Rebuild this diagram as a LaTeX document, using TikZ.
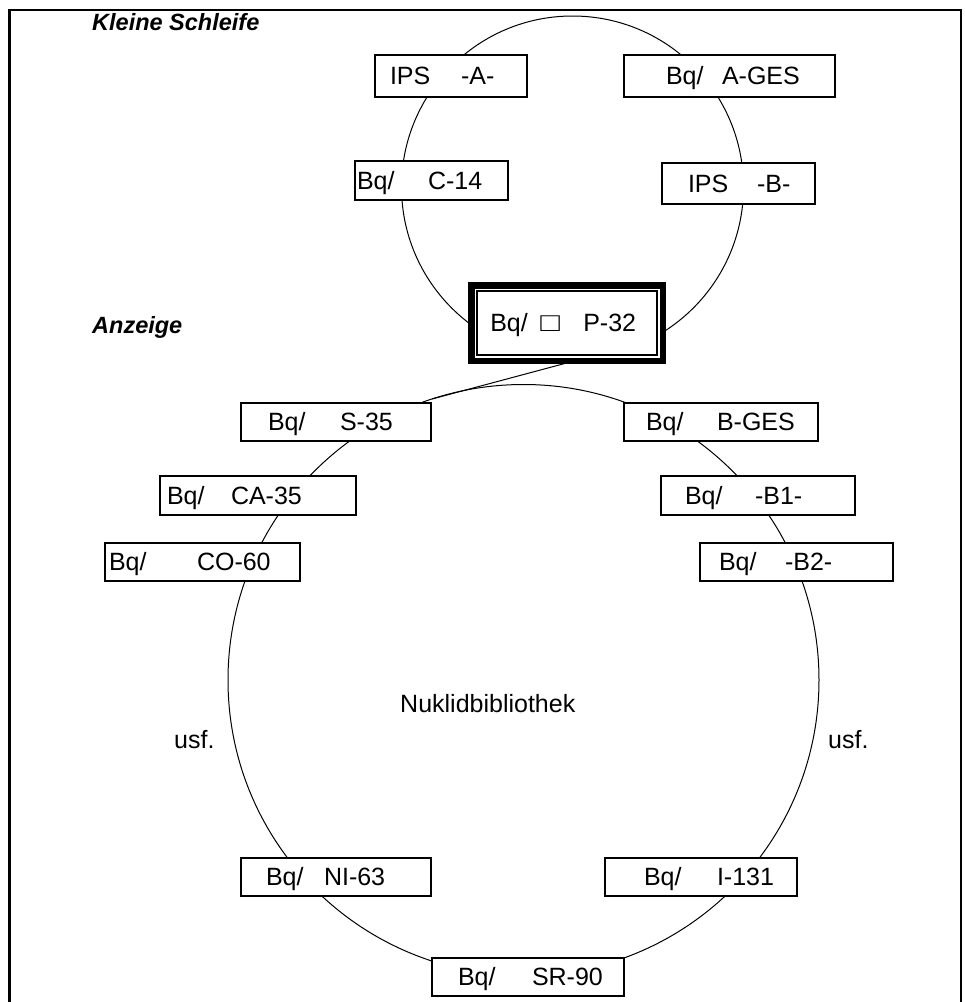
\documentclass[tikz,border=0pt]{standalone}
\usepackage{fontspec}
\usepackage{graphicx}
\setmainfont{Liberation Sans}
\newcommand\bt[5]{\makebox[#1pt][l]{\rlap{\hspace*{#2pt}#3}\hspace*{#4pt}#5}}
\begin{document}
\begin{tikzpicture}[x=1pt,y=-1pt,
  boxst/.style={draw, fill=white, line width=1.8pt, rectangle, inner sep=0pt, outer sep=0pt,
    text height=17.9pt, text depth=0pt, font=\fontsize{25}{29}\selectfont},
  ringst/.style={draw, circle, line width=1pt, inner sep=0pt, outer sep=0pt},
  lbl/.style={font=\fontsize{23.5}{28}\selectfont\bfseries\itshape, inner sep=0pt, anchor=base west},
  txt/.style={font=\fontsize{25}{29}\selectfont, inner sep=0pt, anchor=base west}]
\useasboundingbox (0,0) rectangle (965,1002);
\draw[line width=2.2pt] (9.5,1004) -- (9.5,10) -- (961,10) -- (961,1004);
% rings
\node[ringst, minimum size=342pt] (small) at (572.5,187) {};
\node[ringst, minimum size=591pt] (big) at (523.5,680) {};
% small loop boxes
\node[boxst, minimum width=152pt, minimum height=42pt] (ipsA) at (451,76) {\bt{152}{15}{IPS}{86}{-A-}};
\node[boxst, minimum width=211pt, minimum height=42pt] (aGES) at (729.5,76) {\bt{211}{42}{Bq/}{98}{A-GES}};
\node[boxst, minimum width=153pt, minimum height=39pt] (c14) at (431.5,180.5) {\bt{153}{2}{Bq/}{73}{C-14}};
\node[boxst, minimum width=153pt, minimum height=41pt] (ipsB) at (738.5,183.5) {\bt{153}{26}{IPS}{95}{-B-}};
% display box
\node[boxst, line width=6.5pt, minimum width=191.5pt, minimum height=75.5pt] (p32) at (567,323)
  {\makebox[191.5pt][l]{\rlap{\hspace*{19pt}Bq/}\rlap{\hspace*{69pt}\scalebox{1.3}[1.05]{□}}\hspace*{112pt}P-32}};
\draw[line width=1.6pt] ([shift={(5.5,5.5)}]p32.north west) rectangle ([shift={(-5.5,-5.5)}]p32.south east);
\draw[line width=1pt] ([xshift=8pt]p32.south) -- (big.108.5);
% library boxes
\node[boxst, minimum width=190pt, minimum height=38pt] (s35) at (336,422) {\bt{190}{27}{Bq/}{99}{S-35}};
\node[boxst, minimum width=194pt, minimum height=38pt] (bGES) at (721,422) {\bt{194}{22}{Bq/}{93}{B-GES}};
\node[boxst, minimum width=196pt, minimum height=39pt] (ca35) at (258,495.5) {\bt{196}{7}{Bq/}{71}{CA-35}};
\node[boxst, minimum width=194pt, minimum height=39pt] (b1) at (758,495.5) {\bt{194}{24}{Bq/}{94}{-B1-}};
\node[boxst, minimum width=195pt, minimum height=38pt] (co60) at (202.5,562) {\bt{195}{4}{Bq/}{92}{CO-60}};
\node[boxst, minimum width=193pt, minimum height=38pt] (b2) at (796.5,562) {\bt{193}{19}{Bq/}{85}{-B2-}};
\node[boxst, minimum width=190pt, minimum height=38pt] (ni63) at (336,877) {\bt{190}{25}{Bq/}{83}{NI-63}};
\node[boxst, minimum width=192pt, minimum height=38pt] (i131) at (701,877) {\bt{192}{39}{Bq/}{112}{I-131}};
\node[boxst, minimum width=192pt, minimum height=38pt] (sr90) at (528,977) {\bt{192}{26}{Bq/}{100}{SR-90}};
% labels
\node[lbl] (kleine) at (92,30) {Kleine Schleife};
\node[lbl] (anzeige) at (92,333) {Anzeige};
\node[txt] (nuklid) at (400,712) {Nuklidbibliothek};
\node[txt] (usfL) at (174,748) {usf.};
\node[txt] (usfR) at (828,748) {usf.};
\end{tikzpicture}
\end{document}
